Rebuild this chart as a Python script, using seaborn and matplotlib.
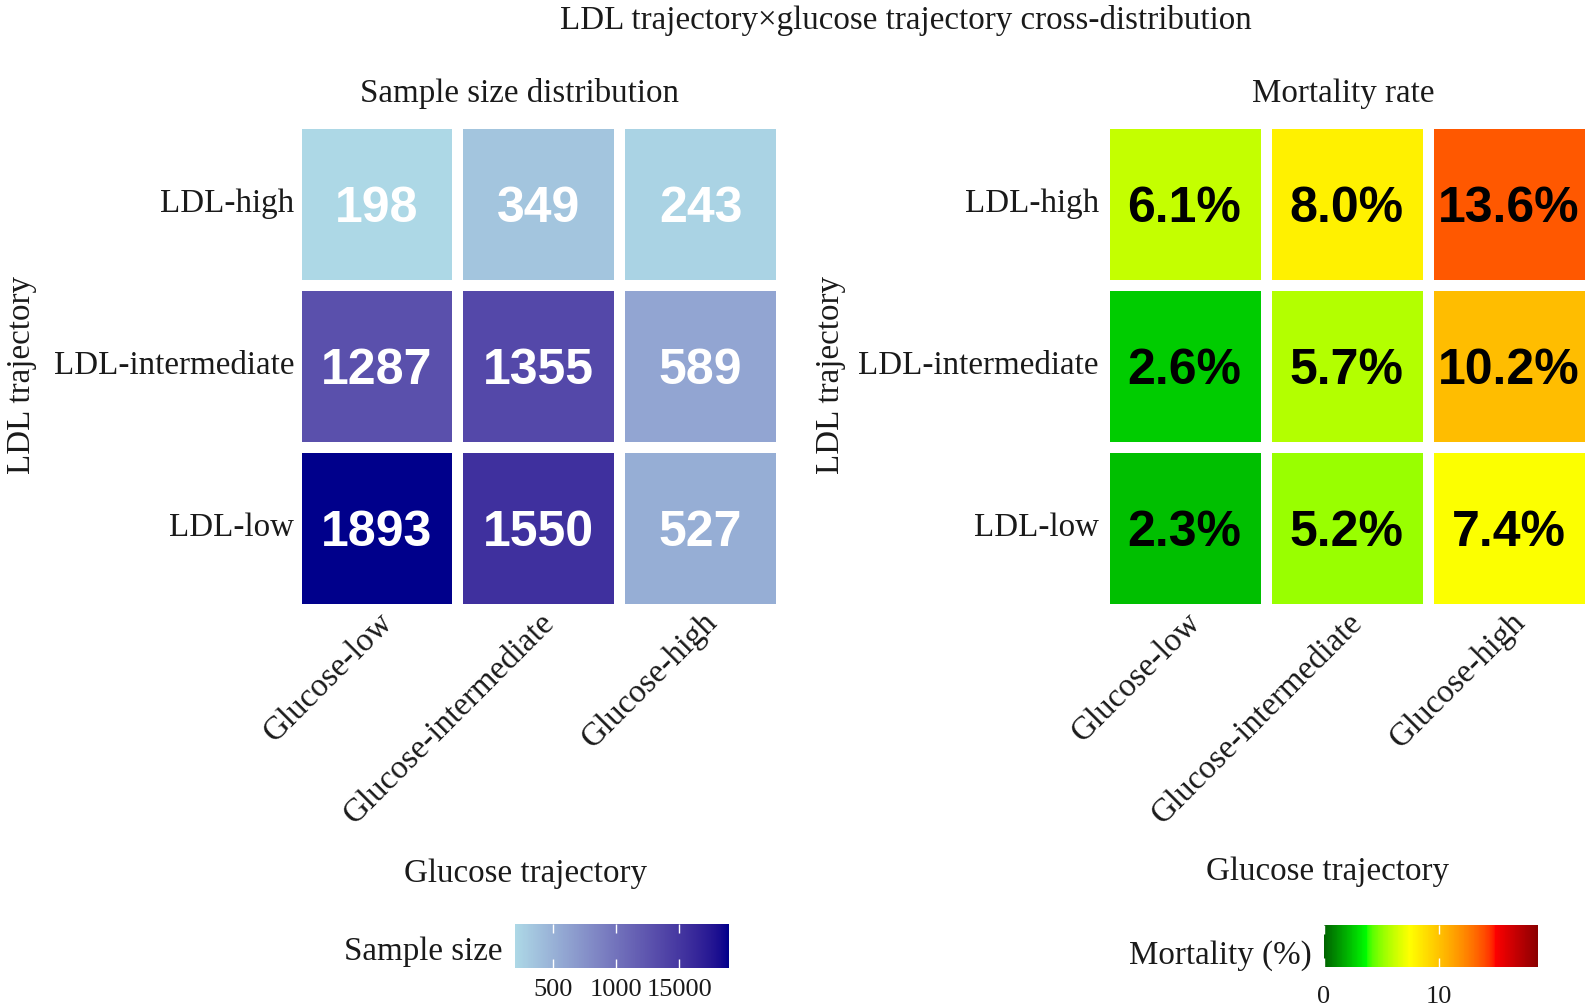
import numpy as np
import pandas as pd
import matplotlib
matplotlib.use("Agg")
import matplotlib.pyplot as plt
import matplotlib.transforms as mtransforms
import seaborn as sns
from matplotlib.colors import ListedColormap, to_rgb

# ---------------- data ----------------
glucose_levels = ["Glucose-low", "Glucose-intermediate", "Glucose-high"]
ldl_levels = ["LDL-high", "LDL-intermediate", "LDL-low"]

sample_ldl_high = [198, 349, 243]
sample_ldl_intermediate = [1287, 1355, 589]
sample_ldl_low = [1893, 1550, 527]

mort_ldl_high = [6.1, 8.0, 13.6]
mort_ldl_intermediate = [2.6, 5.7, 10.2]
mort_ldl_low = [2.3, 5.2, 7.4]

sample_ticks = [500, 1000, 1500]
sample_tick_labels = ["500", "1000", "15000"]
mort_ticks = [0, 10]
mort_tick_labels = ["0", "10"]
mort_limits = (0, 18.6)

main_title = "LDL trajectory\u00d7glucose trajectory cross-distribution"
left_title = "Sample size distribution"
right_title = "Mortality rate"
x_title = "Glucose trajectory"
y_title = "LDL trajectory"
left_cbar_title = "Sample size"
right_cbar_title = "Mortality (%)"

# ---------------- Lab-interpolated colour ramps ----------------
_WHITE = np.array([0.95047, 1.0, 1.08883])
_M = np.array([[0.4124, 0.3576, 0.1805],
               [0.2126, 0.7152, 0.0722],
               [0.0193, 0.1192, 0.9505]])
_Minv = np.linalg.inv(_M)


def srgb_to_lab(c):
    c = np.asarray(c, float)
    lin = np.where(c <= 0.04045, c / 12.92, ((c + 0.055) / 1.055) ** 2.4)
    t = (_M @ lin) / _WHITE
    d = 6 / 29
    f = np.where(t > d ** 3, np.cbrt(t), t / (3 * d * d) + 4 / 29)
    return np.array([116 * f[1] - 16, 500 * (f[0] - f[1]), 200 * (f[1] - f[2])])


def lab_to_srgb(lab):
    L, a, b = lab
    fy_ = (L + 16) / 116
    fx_ = fy_ + a / 500
    fz_ = fy_ - b / 200
    d = 6 / 29
    f = np.array([fx_, fy_, fz_])
    t = np.where(f > d, f ** 3, 3 * d * d * (f - 4 / 29))
    lin = _Minv @ (t * _WHITE)
    lin = np.clip(lin, 0, 1)
    c = np.where(lin <= 0.0031308, 12.92 * lin, 1.055 * lin ** (1 / 2.4) - 0.055)
    return np.clip(c, 0, 1)


def lab_cmap(colors, n=256):
    labs = [srgb_to_lab(to_rgb(c)) for c in colors]
    stops = np.linspace(0, 1, len(colors))
    out = []
    for p in np.linspace(0, 1, n):
        i = min(np.searchsorted(stops, p, side="right") - 1, len(colors) - 2)
        t = (p - stops[i]) / (stops[i + 1] - stops[i])
        out.append(lab_to_srgb(labs[i] * (1 - t) + labs[i + 1] * t))
    return ListedColormap(out)


blue_cmap = lab_cmap(["#ADD8E6", "#00008B"])
mort_cmap = lab_cmap(["#006400", "#00FF00", "#FFFF00", "#FFA500", "#FF0000", "#8B0000"])

# ---------------- figure ----------------
W, H = 1589, 1007
plt.rcParams["font.family"] = ["Liberation Serif", "DejaVu Serif"]
fig = plt.figure(figsize=(W / 100, H / 100), dpi=100)
fig.patch.set_facecolor("white")


def fx(px):
    return px / W


def fy(py):
    return 1 - py / H


SERIF = 23.8
TICK = 19
ANNOT = 36
GAP = 11 * 0.72  # white gap between cells, points
TXT = "#1a1a1a"

sample_df = pd.DataFrame([sample_ldl_high, sample_ldl_intermediate, sample_ldl_low],
                         index=ldl_levels, columns=glucose_levels)
mort_df = pd.DataFrame([mort_ldl_high, mort_ldl_intermediate, mort_ldl_low],
                       index=ldl_levels, columns=glucose_levels)
mort_labels = mort_df.map(lambda v: f"{v:.1f}%")

ax_w = 486
axL = fig.add_axes([fx(295.5), fy(608.5), ax_w / W, ax_w / H])
axR = fig.add_axes([fx(1103.5), fy(608.5), ax_w / W, ax_w / H])

sns.heatmap(sample_df, ax=axL, cmap=blue_cmap,
            vmin=sample_df.values.min(), vmax=sample_df.values.max(),
            annot=True, fmt="d", linewidths=GAP, linecolor="white", cbar=False,
            annot_kws=dict(color="white", fontsize=ANNOT, fontweight="bold",
                           family=["Liberation Sans", "DejaVu Sans"]))
sns.heatmap(mort_df, ax=axR, cmap=mort_cmap, vmin=mort_limits[0], vmax=mort_limits[1],
            annot=mort_labels.values, fmt="", linewidths=GAP, linecolor="white", cbar=False,
            annot_kws=dict(color="black", fontsize=ANNOT, fontweight="bold",
                           family=["Liberation Sans", "DejaVu Sans"]))

xshift = mtransforms.ScaledTranslation(1 / 100, 7 / 100, fig.dpi_scale_trans)
for ax, ypad in ((axL, 1.0), (axR, 3.5)):
    ax.set_xlabel("")
    ax.set_ylabel("")
    ax.set_xticklabels(glucose_levels, rotation=45, ha="right", va="top",
                       rotation_mode="anchor", fontsize=SERIF, color=TXT)
    ax.set_yticklabels(ldl_levels, rotation=0, fontsize=SERIF, color=TXT)
    ax.tick_params(axis="x", length=0, pad=4)
    ax.tick_params(axis="y", length=0, pad=ypad)
    for lab in ax.get_xticklabels():
        lab.set_transform(lab.get_transform() + xshift)
    for s in ax.spines.values():
        s.set_visible(False)
    # nudge the cell numbers so the digits sit in the optical centre
    down = mtransforms.ScaledTranslation(0, -5 / 100, fig.dpi_scale_trans)
    for t in ax.texts:
        t.set_transform(t.get_transform() + down)

# titles
fig.text(fx(906), fy(29), main_title, ha="center", va="baseline", fontsize=SERIF, color=TXT)
fig.text(fx(519), fy(102), left_title, ha="center", va="baseline", fontsize=SERIF, color=TXT)
fig.text(fx(1343), fy(102), right_title, ha="center", va="baseline", fontsize=SERIF, color=TXT)
fig.text(fx(526), fy(882), x_title, ha="center", va="baseline", fontsize=SERIF, color=TXT)
fig.text(fx(1328), fy(880), x_title, ha="center", va="baseline", fontsize=SERIF, color=TXT)
fig.text(fx(22), fy(375), y_title, ha="center", va="center", rotation=90, fontsize=SERIF, color=TXT)
fig.text(fx(831), fy(375), y_title, ha="center", va="center", rotation=90, fontsize=SERIF, color=TXT)

# colourbars
caxL = fig.add_axes([fx(515), fy(968), 214 / W, 44 / H])
caxR = fig.add_axes([fx(1324), fy(967), 214 / W, 42 / H])
for cax, mappable, ticks, labels, pad in ((caxL, axL.collections[0], sample_ticks, sample_tick_labels, 8),
                                          (caxR, axR.collections[0], mort_ticks, mort_tick_labels, 14)):
    cb = fig.colorbar(mappable, cax=cax, orientation="horizontal")
    cb.outline.set_visible(False)
    cb.set_ticks(ticks)
    cb.set_ticklabels(labels)
    cax.tick_params(direction="in", length=6.5, width=1.0, color="white",
                    top=True, bottom=True, labeltop=False, labelbottom=True,
                    labelsize=TICK, labelcolor=TXT, pad=pad)

fig.text(fx(503), fy(960), left_cbar_title, ha="right", va="baseline", fontsize=SERIF, color=TXT)
fig.text(fx(1312), fy(964), right_cbar_title, ha="right", va="baseline", fontsize=SERIF, color=TXT)

fig.savefig("out.png", dpi=100, facecolor="white")
